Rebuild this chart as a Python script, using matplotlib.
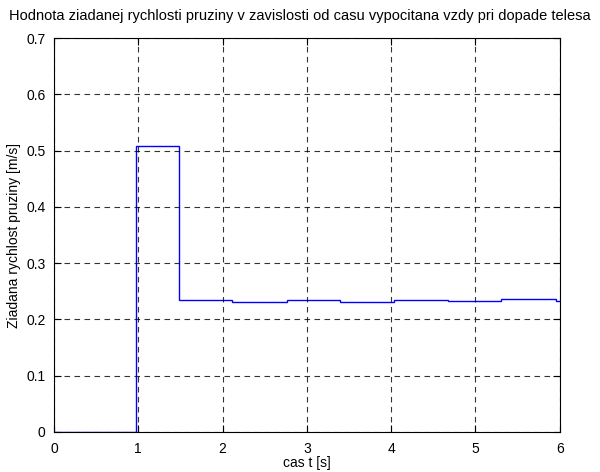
import numpy as np
import matplotlib.pyplot as plt
from matplotlib.ticker import FuncFormatter

plt.rcParams['font.family'] = ['Liberation Sans', 'DejaVu Sans']

# step edges (s) and held values (m/s)
t_edges = [0, 0.97, 1.48, 2.11, 2.76, 3.39, 4.03, 4.67, 5.30, 5.95, 6.0]
v_levels = [0, 0.508, 0.235, 0.231, 0.235, 0.231, 0.235, 0.233, 0.237, 0.233]

fig = plt.figure(figsize=(6, 4.72), dpi=100)
ax = fig.add_axes([0.09, 0.085, 0.843, 0.834])

ax.stairs(v_levels, t_edges, color='b', lw=1, baseline=None)

ax.set_xlim(0, 6)
ax.set_ylim(0, 0.7)
ax.set_xticks(np.arange(0, 7, 1))
ax.set_yticks(np.arange(0, 0.71, 0.1))
ax.yaxis.set_major_formatter(FuncFormatter(lambda v, p: '%g' % round(v, 2)))
ax.tick_params(direction='in', top=True, right=True, labelsize=10, length=5)
ax.tick_params(axis='x', pad=7)
ax.tick_params(axis='y', pad=6)
ax.grid(True, color='k', ls=(0, (5, 4)), lw=0.8, alpha=0.8)

ax.set_title('Hodnota ziadanej rychlosti pruziny v zavislosti od casu vypocitana vzdy pri dopade telesa',
             fontsize=10.5, pad=13, x=0.485)
ax.set_xlabel('cas t [s]', fontsize=10, labelpad=0)
ax.set_ylabel('Ziadana rychlost pruziny [m/s]', fontsize=10, labelpad=4)

fig.savefig('out.png')
